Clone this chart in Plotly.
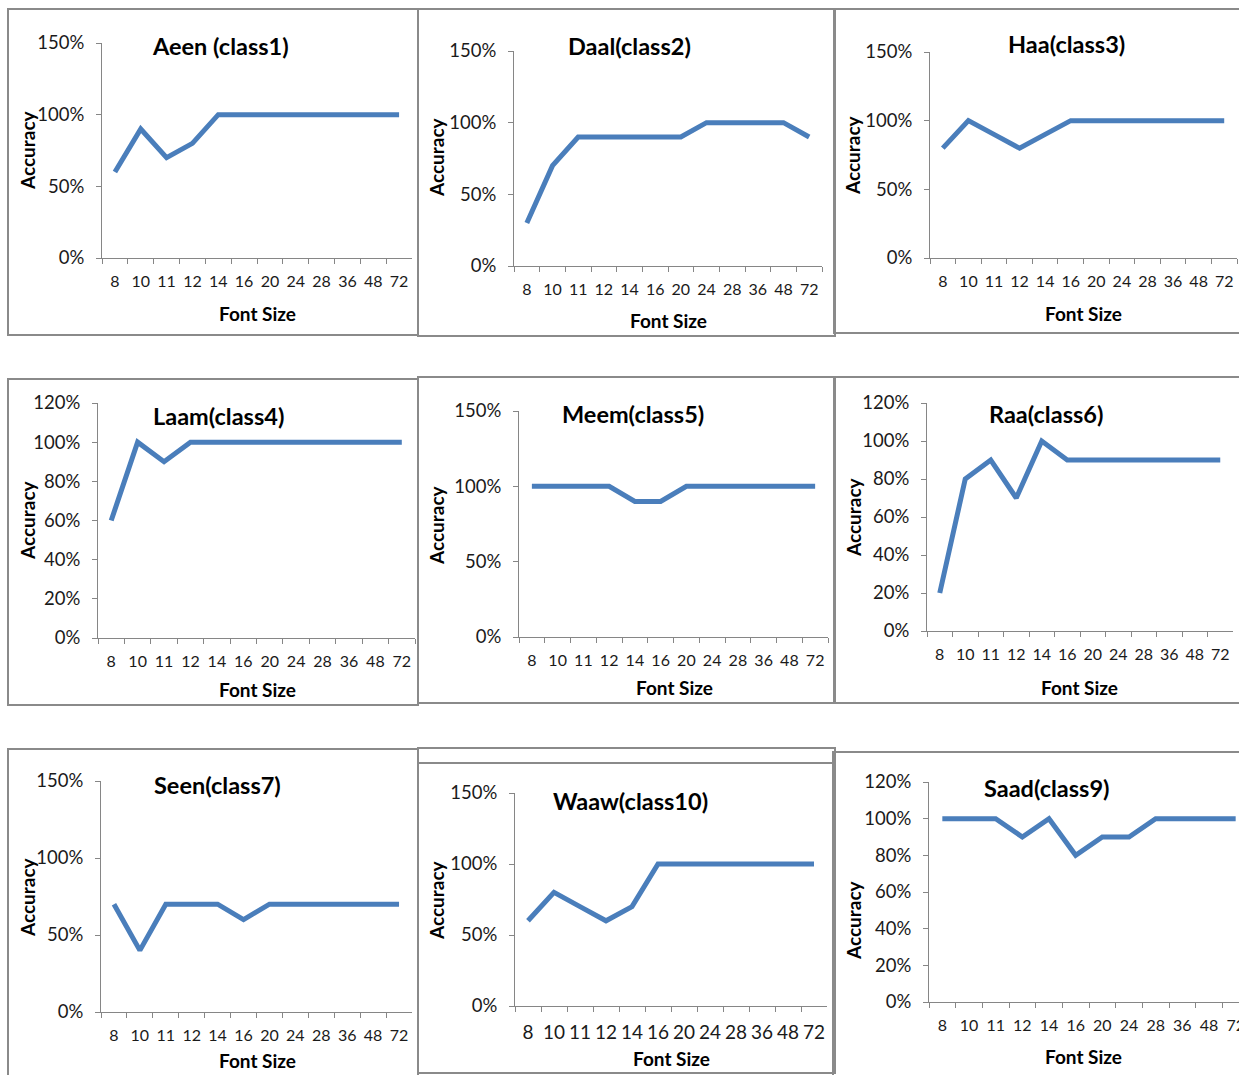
import plotly.graph_objects as go

W, H = 1239, 1075

font_sizes = ["8", "10", "11", "12", "14", "16", "20", "24", "28", "36", "48", "72"]

titles = ["Aeen (class1)", "Daal(class2)", "Haa(class3)",
          "Laam(class4)", "Meem(class5)", "Raa(class6)",
          "Seen(class7)", "Waaw(class10)", "Saad(class9)"]

aeen = [0.60, 0.90, 0.70, 0.80, 1.00, 1.00, 1.00, 1.00, 1.00, 1.00, 1.00, 1.00]
daal = [0.30, 0.70, 0.90, 0.90, 0.90, 0.90, 0.90, 1.00, 1.00, 1.00, 1.00, 0.90]
haa = [0.80, 1.00, 0.90, 0.80, 0.90, 1.00, 1.00, 1.00, 1.00, 1.00, 1.00, 1.00]
laam = [0.60, 1.00, 0.90, 1.00, 1.00, 1.00, 1.00, 1.00, 1.00, 1.00, 1.00, 1.00]
meem = [1.00, 1.00, 1.00, 1.00, 0.90, 0.90, 1.00, 1.00, 1.00, 1.00, 1.00, 1.00]
raa = [0.20, 0.80, 0.90, 0.70, 1.00, 0.90, 0.90, 0.90, 0.90, 0.90, 0.90, 0.90]
seen = [0.70, 0.40, 0.70, 0.70, 0.70, 0.60, 0.70, 0.70, 0.70, 0.70, 0.70, 0.70]
waaw = [0.60, 0.80, 0.70, 0.60, 0.70, 1.00, 1.00, 1.00, 1.00, 1.00, 1.00, 1.00]
saad = [1.00, 1.00, 1.00, 0.90, 1.00, 0.80, 0.90, 0.90, 1.00, 1.00, 1.00, 1.00]

series = [aeen, daal, haa, laam, meem, raa, seen, waaw, saad]
y_max = [1.5, 1.5, 1.5, 1.2, 1.5, 1.2, 1.5, 1.5, 1.2]
y_step = [0.5, 0.5, 0.5, 0.2, 0.5, 0.2, 0.5, 0.5, 0.2]

# plot areas in pixels: x0, x1, y_top, y_bottom
areas = [
    (102, 412, 43, 258), (514, 822, 51, 266), (930, 1237, 52, 258),
    (98, 415, 403, 638), (519, 828, 411, 637), (927, 1233, 403, 631),
    (101, 412, 781, 1012), (515, 827, 793, 1006), (929, 1249, 782, 1002),
]
title_pos = [(220, 46), (629, 46), (1066, 44), (218, 416), (633, 414), (1046, 414),
             (217, 785), (630, 801), (1047, 788)]
xt_pos = [(257, 314), (668, 320), (1083, 314), (257, 689), (674, 687), (1079, 687),
          (257, 1060), (671, 1058), (1083, 1056)]
yt_pos = [(27, 150), (437, 157), (852, 155), (27, 520), (436, 525), (853, 517),
          (27, 897), (436, 900), (853, 920)]
boxes = [(8, 9, 418, 335), (418, 9, 835, 336), (834, 9, 1245, 333),
         (8, 379, 418, 705), (418, 377, 835, 703), (834, 377, 1245, 703),
         (8, 749, 418, 1090), (418, 748, 835, 763), (418, 763, 835, 1073),
         (833, 752, 1245, 1090)]

BLUE = "#4A7EBB"
AX = "#868686"
FONT = "Lato"

fig = go.Figure()
layout = {}
annotations = []
for i in range(9):
    n = "" if i == 0 else str(i + 1)
    x0, x1, yt, yb = areas[i]
    xr = [-0.5, 11.5]
    if x1 > W:
        cw = (x1 - x0) / 12.0
        xr = [-0.5, 11.5 - (x1 - W) / cw]
        x1 = W
    fig.add_trace(go.Scatter(x=font_sizes, y=series[i], mode="lines",
                             line=dict(color=BLUE, width=5),
                             xaxis="x" + n, yaxis="y" + n, showlegend=False,
                             hoverinfo="skip", cliponaxis=False))
    xfs = 19 if i == 7 else 16
    layout["xaxis" + n] = dict(
        domain=[x0 / W, min(x1 / W, 1.0)], anchor="y" + n, type="category",
        range=xr, tickson="boundaries", ticks="outside", ticklen=5,
        tickcolor=AX, showline=True, linecolor=AX, linewidth=1,
        showgrid=False, zeroline=False, tickangle=0, automargin=False,
        tickfont=dict(family=FONT, size=xfs, color="#1a1a1a"),
        ticklabelstandoff=9)
    layout["yaxis" + n] = dict(
        domain=[1 - yb / H, 1 - yt / H], anchor="x" + n,
        range=[0, y_max[i]], dtick=y_step[i], tick0=0, tickformat=".0%",
        ticks="outside", ticklen=5, tickcolor=AX, showline=True,
        linecolor=AX, linewidth=1, showgrid=False, zeroline=False,
        automargin=False,
        tickfont=dict(family=FONT, size=18.5, color="#1a1a1a"),
        ticklabelstandoff=8)
    tx, ty = title_pos[i]
    annotations.append(dict(text="<b>" + titles[i] + "</b>", x=tx / W, y=1 - ty / H,
                            xref="paper", yref="paper", showarrow=False,
                            xanchor="center", yanchor="middle",
                            font=dict(family=FONT, size=23.5, color="#000")))
    fx, fy = xt_pos[i]
    annotations.append(dict(text="<b>Font Size</b>", x=fx / W, y=1 - fy / H,
                            xref="paper", yref="paper", showarrow=False,
                            xanchor="center", yanchor="middle",
                            font=dict(family=FONT, size=19, color="#000")))
    ax_, ay_ = yt_pos[i]
    annotations.append(dict(text="<b>Accuracy</b>", x=ax_ / W, y=1 - ay_ / H,
                            xref="paper", yref="paper", showarrow=False,
                            textangle=-90, xanchor="center", yanchor="middle",
                            font=dict(family=FONT, size=19, color="#000")))

shapes = []
for (bx0, by0, bx1, by1) in boxes:
    shapes.append(dict(type="rect", xref="paper", yref="paper",
                       x0=bx0 / W, x1=bx1 / W, y0=1 - by1 / H, y1=1 - by0 / H,
                       line=dict(color="#8a8a8a", width=2), layer="below"))

fig.update_layout(**layout)
fig.update_layout(width=W, height=H,
                  margin=dict(l=0, r=0, t=0, b=0, pad=0, autoexpand=False),
                  paper_bgcolor="white", plot_bgcolor="white",
                  annotations=annotations, shapes=shapes,
                  font=dict(family=FONT))
fig.write_html("out.html",
               post_script="document.body.style.margin='0';"
                           "document.body.style.overflow='hidden';")
